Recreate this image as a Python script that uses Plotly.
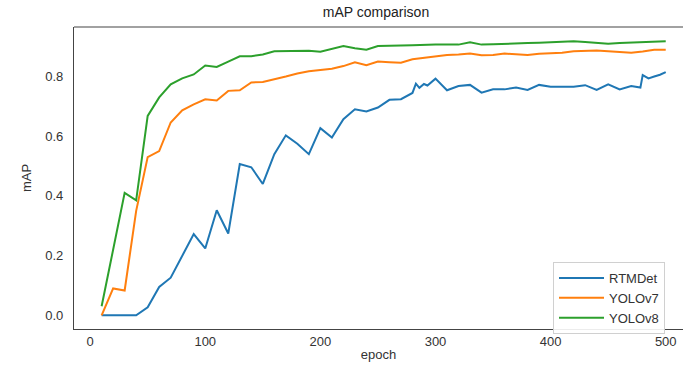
import plotly.graph_objects as go

# ---- data ----
epochs_rtm = [10, 20, 30, 40, 50, 60, 70, 80, 90, 100, 110, 120, 130, 140, 150, 160, 170, 180, 190, 200,
              210, 220, 230, 240, 250, 260, 270, 280, 283, 286, 290, 293, 300, 310, 320, 330, 340, 350, 360,
              370, 380, 390, 400, 410, 420, 430, 440, 450, 460, 470, 478, 480, 485, 490, 495, 500]
rtmdet = [0.0, 0.0, 0.002, 0.0, 0.027, 0.095, 0.126, 0.2, 0.272, 0.224, 0.352, 0.274, 0.507, 0.496, 0.44,
          0.54, 0.603, 0.575, 0.54, 0.627, 0.596, 0.657, 0.69, 0.683, 0.696, 0.722, 0.724, 0.745, 0.776,
          0.762, 0.775, 0.77, 0.793, 0.754, 0.768, 0.772, 0.746, 0.757, 0.757, 0.763, 0.755, 0.772, 0.766,
          0.766, 0.766, 0.771, 0.755, 0.774, 0.757, 0.768, 0.763, 0.805, 0.794, 0.80, 0.806, 0.815]

epochs = [10, 20, 30, 40, 50, 60, 70, 80, 90, 100, 110, 120, 130, 140, 150, 160, 170, 180, 190, 200,
          210, 220, 230, 240, 250, 260, 270, 280, 290, 300, 310, 320, 330, 340, 350, 360, 370, 380, 390,
          400, 410, 420, 430, 440, 450, 460, 470, 480, 490, 500]
yolov7 = [0.0, 0.09, 0.083, 0.35, 0.53, 0.55, 0.646, 0.687, 0.707, 0.724, 0.72, 0.752, 0.754, 0.78, 0.782,
          0.79, 0.80, 0.81, 0.818, 0.822, 0.826, 0.835, 0.848, 0.838, 0.85, 0.848, 0.846, 0.858, 0.863,
          0.868, 0.872, 0.874, 0.877, 0.871, 0.872, 0.877, 0.875, 0.872, 0.876, 0.878, 0.88, 0.885, 0.886,
          0.887, 0.885, 0.882, 0.88, 0.884, 0.89, 0.89]
yolov8 = [0.03, 0.22, 0.41, 0.385, 0.668, 0.73, 0.774, 0.794, 0.807, 0.837, 0.832, 0.85, 0.868, 0.868,
          0.874, 0.885, 0.885, 0.887, 0.886, 0.883, 0.892, 0.902, 0.895, 0.89, 0.902, 0.902, 0.904, 0.905,
          0.907, 0.907, 0.907, 0.907, 0.915, 0.907, 0.908, 0.91, 0.911, 0.912, 0.913, 0.914, 0.916, 0.918,
          0.916, 0.912, 0.91, 0.912, 0.914, 0.916, 0.918, 0.918]

x_ticks = [0, 100, 200, 300, 400, 500]
y_ticks = [0.0, 0.2, 0.4, 0.6, 0.8]
y_tick_labels = ["0.0", "0.2", "0.4", "0.6", "0.8"]

FONT = "Liberation Sans, Arial, sans-serif"
TXT = "#333333"

fig = go.Figure()
fig.add_trace(go.Scatter(x=epochs_rtm, y=rtmdet, mode="lines", name="RTMDet",
                         line=dict(color="#1f77b4", width=2)))
fig.add_trace(go.Scatter(x=epochs, y=yolov7, mode="lines", name="YOLOv7",
                         line=dict(color="#ff7f0e", width=2)))
fig.add_trace(go.Scatter(x=epochs, y=yolov8, mode="lines", name="YOLOv8",
                         line=dict(color="#2ca02c", width=2)))

fig.update_layout(
    width=683, height=365,
    margin=dict(l=74, r=0, t=27, b=36),
    paper_bgcolor="white", plot_bgcolor="white",
    font=dict(family=FONT, size=13, color=TXT),
    title=dict(text="mAP comparison", x=376 / 683, xanchor="center", y=1 - 12 / 365,
               yanchor="middle", font=dict(size=14, color="#222222")),
    showlegend=True,
    legend=dict(x=(553 - 74) / 609, xanchor="left", y=(329 - 262) / 302, yanchor="top",
                bgcolor="rgba(255,255,255,0.9)", bordercolor="#d0d0d0", borderwidth=1,
                font=dict(size=13, color=TXT), itemwidth=45, tracegroupgap=0),
)
fig.update_xaxes(
    range=[-14, 515], tickmode="array", tickvals=x_ticks, ticktext=[str(v) for v in x_ticks],
    showgrid=False, zeroline=False, showline=True, linecolor="#444444", linewidth=1.2,
    mirror=False, ticks="", tickfont=dict(size=13, color=TXT),
    title=dict(text="epoch", font=dict(size=13, color=TXT), standoff=2),
)
fig.update_yaxes(
    range=[-0.046, 0.966], tickmode="array", tickvals=y_ticks, ticktext=y_tick_labels,
    showgrid=False, zeroline=False, showline=True, linecolor="#444444", linewidth=1.2,
    mirror=False, ticks="", tickfont=dict(size=13, color=TXT), ticklabelstandoff=7,
    title=dict(text="mAP", font=dict(size=13, color=TXT), standoff=10),
)
# top border of the axes frame (right border lies outside the cropped image)
fig.add_shape(type="line", xref="paper", yref="paper", x0=0, x1=1, y0=1, y1=1,
              line=dict(color="#444444", width=1.2))

fig.write_html("out.html", config={"displayModeBar": False},
               post_script="document.body.style.margin='0';document.body.style.overflow='hidden';")
